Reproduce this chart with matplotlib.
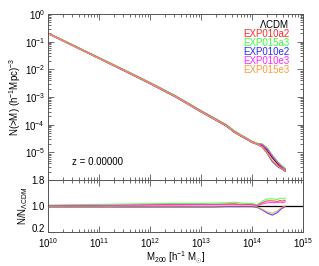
import numpy as np
import matplotlib
matplotlib.use('Agg')
import matplotlib.pyplot as plt
from matplotlib.ticker import LogLocator, NullFormatter, FixedLocator
from matplotlib.transforms import ScaledTranslation

plt.rcParams['font.family'] = ['Liberation Sans', 'DejaVu Sans']
plt.rcParams['mathtext.fontset'] = 'custom'
plt.rcParams['mathtext.rm'] = 'Liberation Sans'
plt.rcParams['mathtext.it'] = 'Liberation Sans'

# log10 of M200 [h^-1 Msun]
log_mass = [10.0, 10.5, 11.0, 11.5, 12.0, 12.5, 13.0, 13.25, 13.5, 13.65, 13.8,
            13.9, 14.0, 14.1, 14.2, 14.3, 14.4, 14.5, 14.55, 14.6, 14.65]

# log10 N(>M) for LCDM
log_n_lcdm = [-0.69, -1.14, -1.59, -2.04, -2.50, -2.98, -3.52, -3.78, -4.04, -4.26, -4.42,
              -4.52, -4.63, -4.69, -4.75, -4.93, -5.19, -5.41, -5.51, -5.59, -5.67]

# N / N_LCDM for the coupled models
ratio_exp010a2 = [1.01, 1.02, 1.02, 1.03, 1.04, 1.05, 1.05, 1.05, 1.06, 1.07, 1.05,
                  1.05, 1.05, 1.02, 1.10, 1.16, 1.16, 1.14, 1.17, 1.15, 1.18]
ratio_exp015a3 = [1.03, 1.04, 1.05, 1.06, 1.07, 1.08, 1.08, 1.09, 1.10, 1.12, 1.09,
                  1.08, 1.08, 1.04, 1.15, 1.22, 1.22, 1.20, 1.24, 1.22, 1.25]
ratio_exp010e2 = [0.97, 0.97, 0.97, 0.97, 0.97, 0.97, 0.97, 0.97, 0.98, 0.98, 0.98,
                  0.98, 0.98, 0.96, 0.88, 0.78, 0.72, 0.80, 0.88, 0.94, 0.98]
ratio_exp010e3 = [1.00, 1.01, 1.01, 1.02, 1.03, 1.03, 1.04, 1.04, 1.05, 1.05, 1.04,
                  1.04, 1.04, 1.01, 1.06, 1.10, 1.11, 1.10, 1.12, 1.10, 1.13]
ratio_exp015e3 = [0.98, 0.98, 0.98, 0.99, 0.99, 0.99, 0.99, 0.99, 1.00, 1.00, 1.00,
                  1.00, 1.00, 0.98, 0.90, 0.82, 0.78, 0.85, 0.92, 0.97, 1.00]

names = ['EXP010a2', 'EXP015a3', 'EXP010e2', 'EXP010e3', 'EXP015e3']
ratios = [ratio_exp010a2, ratio_exp015a3, ratio_exp010e2, ratio_exp010e3, ratio_exp015e3]
colors = ['#ff2a2a', '#3cff3c', '#2a2aff', '#ff2aff', '#ff9a3a']

mass = 10 ** np.array(log_mass)
n_lcdm = 10 ** np.array(log_n_lcdm)

fig = plt.figure(figsize=(3.19, 2.66), dpi=100)
ax1 = fig.add_axes([0.150, 0.323, 0.800, 0.624])
ax2 = fig.add_axes([0.150, 0.128, 0.800, 0.195], sharex=ax1)

fs = 7
spine_col = '#555555'

# top panel
ax1.plot(mass, n_lcdm, color='black', lw=0.9)
for r, c in zip(ratios, colors):
    ax1.plot(mass, n_lcdm * np.array(r), color=c, lw=0.9)
ax1.set_xscale('log')
ax1.set_yscale('log')
ax1.set_xlim(1e10, 1e15)
ax1.set_ylim(1e-6, 1e0)
ax1.set_yticks([1e0, 1e-1, 1e-2, 1e-3, 1e-4, 1e-5])
ax1.yaxis.set_minor_locator(LogLocator(base=10, subs=np.arange(2, 10), numticks=20))
ax1.yaxis.set_minor_formatter(NullFormatter())
ax1.set_ylabel('N(>M) (h$^{-1}$Mpc)$^{-3}$', fontsize=fs, labelpad=1)
plt.setp(ax1.get_xticklabels(), visible=False)
ax1.text(3e10, 10 ** -5.35, 'z = 0.00000', fontsize=fs, va='center', ha='left')

# legend as coloured text
ax1.text(0.945, 0.942, r'$\Lambda$CDM', transform=ax1.transAxes, fontsize=fs,
         ha='right', va='center', color='black')
for i, (nm, c) in enumerate(zip(names, colors)):
    ax1.text(0.945, 0.878 - 0.054 * i, nm, transform=ax1.transAxes, fontsize=fs,
             ha='right', va='center', color=c)

# ratio panel
ax2.axhline(1.0, color='black', lw=0.9)
for r, c in zip(ratios, colors):
    ax2.plot(mass, r, color=c, lw=0.8, alpha=0.85)
ax2.set_ylim(0.2, 1.8)
ax2.yaxis.set_major_locator(FixedLocator([0.2, 1.0, 1.8]))
ax2.set_yticklabels(['0.2', '1.0', '1.8'])
ax2.set_ylabel(r'N/N$_{\Lambda CDM}$', fontsize=fs, labelpad=1)
ax2.set_xlabel(r'M$_{200}$ [h$^{-1}$ M$_{\odot}$]', fontsize=fs, labelpad=0)
ax2.set_xticks([1e10, 1e11, 1e12, 1e13, 1e14, 1e15])
ax2.xaxis.set_minor_locator(LogLocator(base=10, subs=np.arange(2, 10), numticks=20))
ax2.xaxis.set_minor_formatter(NullFormatter())

for ax in (ax1, ax2):
    ax.tick_params(which='both', direction='in', top=True, right=True,
                   labelsize=fs, colors=spine_col, labelcolor='black', width=0.6)
    ax.tick_params(which='major', length=4, pad=2)
    ax.tick_params(which='minor', length=2)
    for s in ax.spines.values():
        s.set_color(spine_col)
        s.set_linewidth(0.7)
ax2.tick_params(axis='x', which='major', pad=3)

# nudge the lowest ratio label up a little, as in the original
low_lab = ax2.get_yticklabels()[0]
low_lab.set_transform(low_lab.get_transform() + ScaledTranslation(0, 2.5 / 72, fig.dpi_scale_trans))

fig.savefig('out.png', dpi=100)
